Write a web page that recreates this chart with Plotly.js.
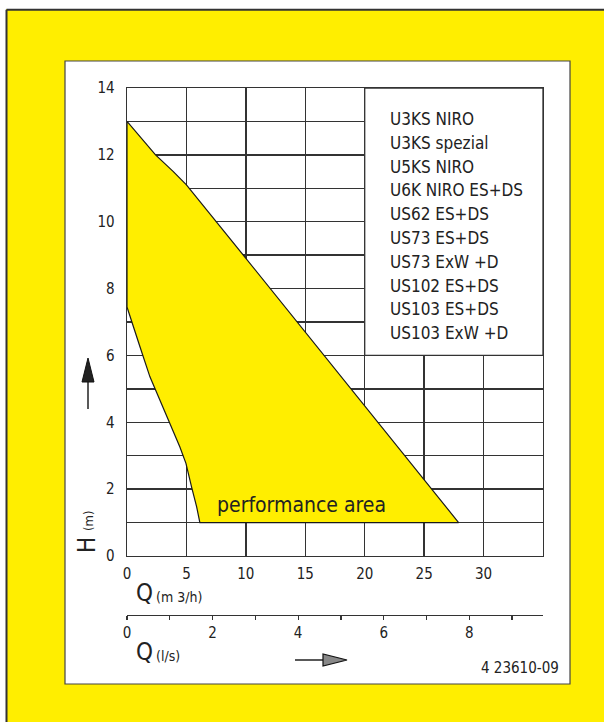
<!DOCTYPE html>
<html>
<head>
<meta charset="utf-8">
<script src="https://cdn.plot.ly/plotly-3.0.1.min.js"></script>
<style>html,body{margin:0;padding:0;background:#fff;}#chart{width:604px;height:722px;}</style>
</head>
<body>
<div id="chart"></div>
<script>
// ---- data ----
// upper boundary of the performance area (Q in m3/h, H in m)
const upperQ = [0, 2.4, 3.9, 5.0, 9.9, 27.9];
const upperH = [13, 12.0, 11.5, 11.1, 8.95, 1.0];
// lower-left boundary (from bottom corner up to the H axis)
const lowerQ = [6.13, 5.86, 5.43, 4.96, 4.45, 3.6, 2.77, 1.93, 1.09, 0.39, 0];
const lowerH = [1.0, 1.47, 2.07, 2.77, 3.26, 3.96, 4.66, 5.36, 6.26, 7.06, 7.45];
const models = ["U3KS NIRO", "U3KS spezial", "U5KS NIRO", "U6K NIRO ES+DS", "US62 ES+DS",
                "US73 ES+DS", "US73 ExW +D", "US102 ES+DS", "US103 ES+DS", "US103 ExW +D"];
const qTicks = [0, 5, 10, 15, 20, 25, 30];
const hTicks = [0,1,2,3,4,5,6,7,8,9,10,11,12,13,14];
const lsTicks = [0,1,2,3,4,5,6,7,8,9];
const areaLabel = "performance area";
const drawingNo = "4 23610-09";

// ---- layout helpers (pixel -> paper) ----
const W = 604, Hh = 722;
const px = v => v / W;
const py = v => 1 - v / Hh;
const FONT = "'DejaVu Sans Condensed', 'Liberation Sans Narrow', 'DejaVu Sans', sans-serif";
const INK = "#222";
const YEL = "#FFEE00";

// polygon: upper curve then bottom edge then lower curve back to axis
const polyQ = upperQ.concat(lowerQ).concat([0]);
const polyH = upperH.concat(lowerH).concat([13]);

const traces = [{
  x: polyQ, y: polyH, type: "scatter", mode: "lines",
  fill: "toself", fillcolor: YEL,
  line: {color: "#1a1a1a", width: 1.2},
  hoverinfo: "skip", showlegend: false, xaxis: "x", yaxis: "y"
}, {
  x: [0, 35/3.6], y: [null, null], type: "scatter", mode: "lines",
  showlegend: false, hoverinfo: "skip", xaxis: "x2", yaxis: "y"
}];

const annotations = [];
models.forEach((m, i) => {
  annotations.push({xref: "paper", yref: "paper", x: px(388), y: py(119 + i * 23.8),
    xanchor: "left", yanchor: "middle", showarrow: false, text: m,
    font: {family: FONT, size: 17, color: INK}});
});
annotations.push({xref: "x", yref: "y", x: 14.7, y: 1.52, showarrow: false, text: areaLabel,
  xanchor: "center", yanchor: "middle", font: {family: FONT, size: 21, color: INK}});
// axis titles
annotations.push({xref: "paper", yref: "paper", x: px(134), y: py(593), xanchor: "left", yanchor: "middle",
  showarrow: false, text: "Q", font: {family: FONT, size: 24, color: INK}});
annotations.push({xref: "paper", yref: "paper", x: px(154), y: py(597), xanchor: "left", yanchor: "middle",
  showarrow: false, text: "(m 3/h)", font: {family: FONT, size: 14, color: INK}});
annotations.push({xref: "paper", yref: "paper", x: px(134), y: py(652), xanchor: "left", yanchor: "middle",
  showarrow: false, text: "Q", font: {family: FONT, size: 24, color: INK}});
annotations.push({xref: "paper", yref: "paper", x: px(154), y: py(656), xanchor: "left", yanchor: "middle",
  showarrow: false, text: "(l/s)", font: {family: FONT, size: 14, color: INK}});
annotations.push({xref: "paper", yref: "paper", x: px(87), y: py(545), xanchor: "center", yanchor: "middle",
  showarrow: false, text: "H", textangle: -90, font: {family: FONT, size: 24, color: INK}});
annotations.push({xref: "paper", yref: "paper", x: px(88), y: py(521), xanchor: "center", yanchor: "middle",
  showarrow: false, text: "(m)", textangle: -90, font: {family: FONT, size: 13, color: INK}});
annotations.push({xref: "paper", yref: "paper", x: px(561), y: py(668), xanchor: "right", yanchor: "middle",
  showarrow: false, text: drawingNo, font: {family: FONT, size: 15, color: INK}});

const shapes = [
  // white strips outside the frame
  {type: "rect", xref: "paper", yref: "paper", x0: 0, x1: 1, y0: py(0), y1: py(9), fillcolor: "#fff", line: {width: 0}, layer: "below"},
  {type: "rect", xref: "paper", yref: "paper", x0: 0, x1: px(6), y0: 0, y1: 1, fillcolor: "#fff", line: {width: 0}, layer: "below"},
  // frame border lines
  {type: "line", xref: "paper", yref: "paper", x0: px(6.5), x1: 1, y0: py(9.8), y1: py(9.8), line: {color: "#333", width: 2}},
  {type: "line", xref: "paper", yref: "paper", x0: px(6.5), x1: px(6.5), y0: py(9.8), y1: 0, line: {color: "#333", width: 2}},
  // white panel
  {type: "rect", xref: "paper", yref: "paper", x0: px(65), x1: px(570), y0: py(684), y1: py(61),
   fillcolor: "#fff", line: {color: "#444", width: 1.2}, layer: "below"},
  // legend box covering the grid
  {type: "rect", xref: "x", yref: "y", x0: 20, x1: 35, y0: 6, y1: 14,
   fillcolor: "#fff", line: {color: "#333", width: 1.3}, layer: "above"},
  // vertical arrow
  {type: "line", xref: "paper", yref: "paper", x0: px(88), x1: px(88), y0: py(409), y1: py(380), line: {color: INK, width: 1.5}},
  {type: "path", xref: "paper", yref: "paper",
   path: `M ${px(82)} ${py(382)} L ${px(94)} ${py(382)} L ${px(88)} ${py(358)} Z`,
   fillcolor: "#222", line: {color: "#111", width: 1}},
  // horizontal arrow
  {type: "line", xref: "paper", yref: "paper", x0: px(295), x1: px(325), y0: py(660), y1: py(660), line: {color: INK, width: 1.5}},
  {type: "path", xref: "paper", yref: "paper",
   path: `M ${px(323)} ${py(654)} L ${px(323)} ${py(666)} L ${px(347)} ${py(660)} Z`,
   fillcolor: "#888", line: {color: "#111", width: 1.2}}
];

const layout = {
  width: W, height: Hh,
  margin: {l: 0, r: 0, t: 0, b: 0},
  paper_bgcolor: YEL, plot_bgcolor: "#fff",
  showlegend: false,
  xaxis: {
    domain: [px(127), px(543)], range: [0, 35], anchor: "y",
    tickvals: qTicks, ticks: "", showgrid: true, gridcolor: "#333", gridwidth: 1.3,
    showline: true, mirror: true, linecolor: "#333", linewidth: 1.3, zeroline: false,
    tickfont: {family: FONT, size: 15, color: INK}, ticklabelstandoff: 4, fixedrange: true
  },
  yaxis: {
    domain: [py(556), py(88)], range: [0, 14], anchor: "x",
    tickvals: hTicks, ticktext: hTicks.map(v => v % 2 === 0 ? String(v) : ""),
    ticks: "", showgrid: true, gridcolor: "#333", gridwidth: 1.3,
    showline: true, mirror: true, linecolor: "#333", linewidth: 1.3, zeroline: false,
    tickfont: {family: FONT, size: 15, color: INK}, ticklabelstandoff: 8, fixedrange: true
  },
  xaxis2: {
    overlaying: "x", anchor: "free", position: py(615), side: "bottom",
    range: [0, 35/3.6], tickvals: lsTicks, ticktext: lsTicks.map(v => v % 2 === 0 ? String(v) : ""),
    ticks: "outside", ticklen: 4, tickwidth: 1.2, tickcolor: "#333",
    showgrid: false, zeroline: false, showline: true, linecolor: "#333", linewidth: 1.3,
    tickfont: {family: FONT, size: 15, color: INK}, fixedrange: true
  },
  annotations: annotations,
  shapes: shapes
};

Plotly.newPlot("chart", traces, layout, {staticPlot: true, displayModeBar: false});
</script>
</body>
</html>
